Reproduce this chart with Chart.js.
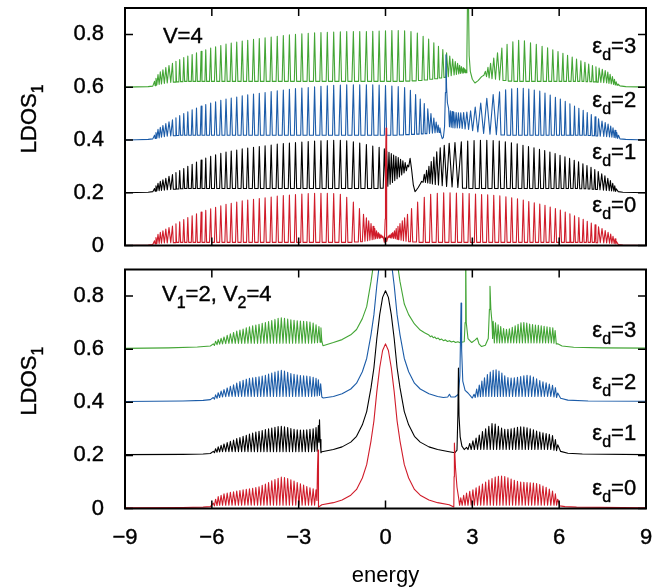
<!DOCTYPE html>
<html>
<head>
<meta charset="utf-8">
<script src="https://cdn.jsdelivr.net/npm/chart.js@4.4.1/dist/chart.umd.min.js"></script>
<style>
  body { margin: 0; background: #fff; }
  #wrap { position: relative; width: 668px; height: 588px; }
  canvas { position: absolute; left: 0; }
  #top { top: 0; }
  #bottom { top: 255px; }
</style>
</head>
<body>
<div id="wrap">
  <canvas id="top" width="668" height="260"></canvas>
  <canvas id="bottom" width="668" height="333"></canvas>
</div>
<script>
// LDOS_1 vs energy, two panels (V=4 and V1=2,V2=4), curves offset by eps_d

const energyTicks = [-9, -6, -3, 0, 3, 6, 9];
const ldosTicks = [0, 0.2, 0.4, 0.6, 0.8];
const levels = ['0', '1', '2', '3'];
const colors = ['#d01c2a', '#000000', '#1c5ca8', '#43a535'];

// ── top panel (V=4) ─────────────────────────────
const redTop = [
  [-9,0],[-8.6,0.001],[-8.2,0.002],[-8.04,0.004],
  [-7.98,0.018],[-7.96,0.006],[-7.93,0.03],[-7.9,0.007],[-7.86,0.042],[-7.82,0.008],
  [-7.78,0.05],[-7.74,0.009],[-7.69,0.056],[-7.64,0.01],[-7.59,0.062],[-7.54,0.01],
  [-7.48,0.068],[-7.42,0.011],[-7.36,0.074],[-7.33,0.011],[-7.27,0.011],
  [-7.24,0.082],[-7.22,0.012],[-7.14,0.012],[-7.11,0.09],[-7.08,0.012],[-7.0,0.012],
  [-6.97,0.098],[-6.94,0.012],[-6.86,0.012],[-6.83,0.106],[-6.8,0.012],[-6.71,0.012],
  [-6.68,0.113],[-6.65,0.012],[-6.56,0.012],[-6.53,0.12],[-6.5,0.012],[-6.4,0.012],
  [-6.37,0.127],[-6.34,0.012],[-6.24,0.012],[-6.21,0.133],[-6.18,0.012],[-6.08,0.012],
  [-6.04,0.139],[-6.01,0.012],[-5.91,0.012],[-5.87,0.145],[-5.83,0.012],[-5.73,0.012],
  [-5.69,0.15],[-5.65,0.012],[-5.55,0.012],[-5.51,0.156],[-5.47,0.012],[-5.37,0.012],
  [-5.33,0.16],[-5.29,0.012],[-5.18,0.012],[-5.14,0.165],[-5.1,0.012],[-4.99,0.012],
  [-4.95,0.169],[-4.91,0.012],[-4.8,0.012],[-4.76,0.172],[-4.72,0.012],[-4.6,0.012],
  [-4.56,0.175],[-4.52,0.012],[-4.4,0.012],[-4.36,0.178],[-4.32,0.012],[-4.2,0.012],
  [-4.16,0.181],[-4.12,0.012],[-3.99,0.012],[-3.95,0.184],[-3.91,0.012],[-3.78,0.012],
  [-3.74,0.187],[-3.7,0.012],[-3.57,0.012],[-3.53,0.189],[-3.49,0.012],[-3.36,0.012],
  [-3.32,0.191],[-3.28,0.012],[-3.15,0.012],[-3.11,0.193],[-3.07,0.012],[-2.93,0.012],
  [-2.89,0.195],[-2.85,0.012],[-2.71,0.012],[-2.67,0.197],[-2.63,0.012],[-2.49,0.012],
  [-2.45,0.198],[-2.41,0.012],[-2.27,0.012],[-2.23,0.198],[-2.19,0.012],[-2.05,0.012],
  [-2.01,0.198],[-1.97,0.012],[-1.83,0.012],[-1.79,0.197],[-1.75,0.012],[-1.61,0.012],
  [-1.56,0.194],[-1.52,0.012],[-1.38,0.012],[-1.34,0.183],[-1.3,0.012],[-1.16,0.012],
  [-1.11,0.165],[-1.07,0.013],[-0.94,0.013],[-0.9,0.14],[-0.86,0.014],[-0.8,0.014],
  [-0.76,0.118],[-0.71,0.016],[-0.66,0.105],[-0.62,0.018],[-0.58,0.094],[-0.54,0.02],
  [-0.5,0.083],[-0.46,0.022],[-0.43,0.073],[-0.4,0.024],[-0.37,0.064],[-0.34,0.026],
  [-0.31,0.056],[-0.28,0.027],[-0.25,0.049],[-0.22,0.028],[-0.2,0.044],[-0.17,0.029],
  [-0.15,0.04],[-0.12,0.03],[-0.1,0.036],[-0.07,0.028],[-0.04,0.012],[-0.01,0.1],
  [0.0,0.3],[0.02,0.445],[0.03,0.2],[0.05,0.015],[0.08,0.03],[0.1,0.036],
  [0.12,0.03],[0.15,0.04],[0.17,0.029],[0.2,0.044],[0.22,0.028],[0.25,0.049],
  [0.28,0.027],[0.31,0.056],[0.34,0.026],[0.37,0.064],[0.4,0.024],[0.43,0.073],
  [0.46,0.022],[0.5,0.083],[0.54,0.02],[0.58,0.094],[0.62,0.018],[0.66,0.105],
  [0.71,0.016],[0.76,0.118],[0.8,0.014],[0.86,0.014],[0.9,0.14],[0.94,0.013],
  [1.07,0.013],[1.11,0.165],[1.16,0.012],[1.3,0.012],[1.34,0.183],[1.38,0.012],
  [1.52,0.012],[1.56,0.194],[1.61,0.012],[1.75,0.012],[1.79,0.198],[1.83,0.012],
  [1.97,0.012],[2.01,0.2],[2.05,0.012],[2.19,0.012],[2.23,0.2],[2.27,0.012],
  [2.41,0.012],[2.45,0.199],[2.49,0.012],[2.63,0.012],[2.67,0.198],[2.71,0.012],
  [2.85,0.012],[2.89,0.197],[2.93,0.012],[3.07,0.012],[3.11,0.195],[3.15,0.012],
  [3.28,0.012],[3.32,0.193],[3.36,0.012],[3.49,0.012],[3.53,0.192],[3.57,0.012],
  [3.7,0.012],[3.74,0.19],[3.78,0.012],[3.91,0.012],[3.95,0.188],[3.99,0.012],
  [4.12,0.012],[4.16,0.185],[4.2,0.012],[4.32,0.012],[4.36,0.181],[4.4,0.012],
  [4.52,0.012],[4.56,0.177],[4.6,0.012],[4.72,0.012],[4.76,0.172],[4.8,0.012],
  [4.91,0.012],[4.95,0.167],[4.99,0.012],[5.1,0.012],[5.14,0.162],[5.18,0.012],
  [5.29,0.012],[5.33,0.157],[5.37,0.012],[5.47,0.012],[5.51,0.152],[5.55,0.012],
  [5.65,0.012],[5.69,0.146],[5.73,0.012],[5.83,0.012],[5.87,0.14],[5.91,0.012],
  [6.01,0.012],[6.04,0.134],[6.08,0.012],[6.18,0.012],[6.21,0.127],[6.24,0.012],
  [6.34,0.012],[6.37,0.12],[6.4,0.012],[6.5,0.012],[6.53,0.113],[6.56,0.012],
  [6.65,0.012],[6.68,0.106],[6.71,0.012],[6.8,0.012],[6.83,0.099],[6.86,0.012],
  [6.94,0.012],[6.97,0.092],[7.0,0.012],[7.08,0.012],[7.11,0.085],[7.14,0.012],
  [7.22,0.012],[7.24,0.078],[7.27,0.011],[7.33,0.011],[7.36,0.071],[7.42,0.011],
  [7.48,0.064],[7.54,0.01],[7.59,0.057],[7.64,0.01],[7.69,0.05],[7.74,0.009],
  [7.78,0.043],[7.82,0.008],[7.86,0.035],[7.9,0.007],[7.93,0.025],[7.96,0.006],
  [7.98,0.015],[8.04,0.004],[8.2,0.002],[8.6,0.001],[9,0]
];

const blackTop = [
  [-9,0.2],[-8.6,0.201],[-8.2,0.202],[-8.04,0.204],
  [-7.98,0.216],[-7.96,0.206],[-7.93,0.226],[-7.9,0.207],[-7.86,0.236],[-7.82,0.208],
  [-7.78,0.243],[-7.74,0.209],[-7.69,0.249],[-7.64,0.21],[-7.59,0.255],[-7.54,0.211],
  [-7.48,0.262],[-7.42,0.212],[-7.36,0.269],[-7.33,0.213],[-7.27,0.213],
  [-7.24,0.276],[-7.22,0.214],[-7.14,0.214],[-7.11,0.284],[-7.08,0.215],[-7.0,0.215],
  [-6.97,0.292],[-6.94,0.216],[-6.86,0.216],[-6.83,0.3],[-6.8,0.216],[-6.71,0.216],
  [-6.68,0.308],[-6.65,0.216],[-6.56,0.216],[-6.53,0.316],[-6.5,0.216],[-6.4,0.216],
  [-6.37,0.324],[-6.34,0.216],[-6.24,0.216],[-6.21,0.331],[-6.18,0.216],[-6.08,0.216],
  [-6.04,0.338],[-6.01,0.216],[-5.91,0.216],[-5.87,0.344],[-5.83,0.216],[-5.73,0.216],
  [-5.69,0.349],[-5.65,0.216],[-5.55,0.216],[-5.51,0.354],[-5.47,0.216],[-5.37,0.216],
  [-5.33,0.358],[-5.29,0.216],[-5.18,0.216],[-5.14,0.362],[-5.1,0.216],[-4.99,0.216],
  [-4.95,0.366],[-4.91,0.216],[-4.8,0.216],[-4.76,0.369],[-4.72,0.216],[-4.6,0.216],
  [-4.56,0.372],[-4.52,0.216],[-4.4,0.216],[-4.36,0.375],[-4.32,0.216],[-4.2,0.216],
  [-4.16,0.378],[-4.12,0.216],[-3.99,0.216],[-3.95,0.381],[-3.91,0.216],[-3.78,0.216],
  [-3.74,0.384],[-3.7,0.216],[-3.57,0.216],[-3.53,0.386],[-3.49,0.216],[-3.36,0.216],
  [-3.32,0.388],[-3.28,0.216],[-3.15,0.216],[-3.11,0.39],[-3.07,0.216],[-2.93,0.216],
  [-2.89,0.392],[-2.85,0.216],[-2.71,0.216],[-2.67,0.394],[-2.63,0.216],[-2.49,0.216],
  [-2.45,0.396],[-2.41,0.216],[-2.27,0.216],[-2.23,0.397],[-2.19,0.216],[-2.05,0.216],
  [-2.01,0.398],[-1.97,0.216],[-1.83,0.216],[-1.79,0.399],[-1.75,0.216],[-1.61,0.216],
  [-1.56,0.399],[-1.52,0.216],[-1.38,0.216],[-1.34,0.397],[-1.3,0.216],[-1.16,0.216],
  [-1.11,0.393],[-1.07,0.216],[-0.93,0.216],[-0.89,0.388],[-0.85,0.216],[-0.71,0.216],
  [-0.66,0.383],[-0.62,0.216],[-0.48,0.216],[-0.44,0.377],[-0.4,0.216],[-0.26,0.216],
  [-0.22,0.372],[-0.18,0.217],[-0.08,0.217],
  [-0.04,0.366],[0.01,0.22],[0.04,0.358],[0.08,0.225],[0.12,0.353],[0.16,0.232],
  [0.2,0.348],[0.24,0.239],[0.28,0.343],[0.32,0.246],[0.36,0.338],[0.4,0.253],
  [0.44,0.333],[0.48,0.26],[0.52,0.327],[0.56,0.267],[0.6,0.321],[0.64,0.275],
  [0.68,0.314],[0.72,0.283],[0.76,0.305],[0.8,0.298],[0.85,0.33],[0.9,0.29],
  [0.96,0.23],[1.02,0.204],[1.08,0.212],[1.13,0.22],[1.2,0.233],[1.25,0.243],
  [1.3,0.24],[1.34,0.27],[1.38,0.239],[1.42,0.285],[1.46,0.237],[1.5,0.3],
  [1.54,0.235],[1.58,0.318],[1.62,0.233],[1.67,0.335],[1.72,0.231],[1.77,0.355],
  [1.83,0.229],[1.89,0.37],[1.96,0.227],[2.03,0.38],[2.11,0.224],[2.2,0.387],
  [2.3,0.222],[2.4,0.39],[2.5,0.22],[2.62,0.393],[2.66,0.217],[2.8,0.217],
  [2.84,0.396],[2.88,0.216],[3.02,0.216],[3.06,0.398],[3.1,0.216],[3.24,0.216],
  [3.28,0.399],[3.32,0.216],[3.46,0.216],[3.5,0.399],[3.54,0.216],[3.68,0.216],
  [3.72,0.398],[3.77,0.216],[3.89,0.216],[3.93,0.396],[3.98,0.216],[4.1,0.216],
  [4.14,0.393],[4.19,0.216],[4.31,0.216],[4.35,0.389],[4.39,0.216],[4.51,0.216],
  [4.55,0.385],[4.59,0.216],[4.71,0.216],[4.75,0.38],[4.79,0.216],[4.9,0.216],
  [4.94,0.375],[4.98,0.216],[5.09,0.216],[5.13,0.37],[5.17,0.216],[5.28,0.216],
  [5.32,0.365],[5.36,0.216],[5.46,0.216],[5.5,0.36],[5.54,0.216],[5.64,0.216],
  [5.68,0.354],[5.72,0.216],[5.82,0.216],[5.86,0.348],[5.9,0.216],[5.99,0.216],
  [6.03,0.342],[6.07,0.216],[6.16,0.216],[6.2,0.336],[6.24,0.216],[6.32,0.216],
  [6.36,0.33],[6.4,0.216],[6.48,0.216],[6.52,0.323],[6.56,0.216],[6.63,0.216],
  [6.67,0.317],[6.71,0.215],[6.78,0.215],[6.82,0.31],[6.86,0.215],[6.92,0.215],
  [6.96,0.303],[7.0,0.214],[7.06,0.214],[7.1,0.296],[7.14,0.213],[7.2,0.213],
  [7.23,0.288],[7.26,0.212],[7.32,0.212],[7.35,0.28],[7.41,0.211],[7.47,0.272],
  [7.53,0.21],[7.58,0.264],[7.63,0.209],[7.68,0.255],[7.73,0.208],[7.77,0.246],
  [7.81,0.207],[7.85,0.236],[7.89,0.206],[7.92,0.226],[7.95,0.205],[7.97,0.215],
  [8.04,0.204],[8.2,0.202],[8.6,0.201],[9,0.2]
];

const blueTop = [
  [-9,0.4],[-8.6,0.401],[-8.2,0.402],[-8.04,0.404],
  [-7.98,0.418],[-7.96,0.406],[-7.93,0.428],[-7.9,0.407],[-7.86,0.44],[-7.82,0.408],
  [-7.78,0.448],[-7.74,0.41],[-7.69,0.455],[-7.64,0.412],[-7.59,0.462],[-7.54,0.414],
  [-7.48,0.469],[-7.42,0.415],[-7.36,0.476],[-7.33,0.416],[-7.27,0.416],
  [-7.24,0.484],[-7.22,0.417],[-7.14,0.417],[-7.11,0.492],[-7.08,0.418],[-7.0,0.418],
  [-6.97,0.5],[-6.94,0.418],[-6.86,0.418],[-6.83,0.507],[-6.8,0.418],[-6.71,0.418],
  [-6.68,0.514],[-6.65,0.418],[-6.56,0.418],[-6.53,0.521],[-6.5,0.418],[-6.4,0.418],
  [-6.37,0.528],[-6.34,0.418],[-6.24,0.418],[-6.21,0.534],[-6.18,0.418],[-6.08,0.418],
  [-6.04,0.54],[-6.01,0.418],[-5.91,0.418],[-5.87,0.545],[-5.83,0.418],[-5.73,0.418],
  [-5.69,0.55],[-5.65,0.418],[-5.55,0.418],[-5.51,0.555],[-5.47,0.418],[-5.37,0.418],
  [-5.33,0.559],[-5.29,0.418],[-5.18,0.418],[-5.14,0.563],[-5.1,0.418],[-4.99,0.418],
  [-4.95,0.567],[-4.91,0.418],[-4.8,0.418],[-4.76,0.571],[-4.72,0.418],[-4.6,0.418],
  [-4.56,0.574],[-4.52,0.418],[-4.4,0.418],[-4.36,0.577],[-4.32,0.418],[-4.2,0.418],
  [-4.16,0.58],[-4.12,0.418],[-3.99,0.418],[-3.95,0.583],[-3.91,0.418],[-3.78,0.418],
  [-3.74,0.586],[-3.7,0.418],[-3.57,0.418],[-3.53,0.589],[-3.49,0.418],[-3.36,0.418],
  [-3.32,0.592],[-3.28,0.418],[-3.15,0.418],[-3.11,0.595],[-3.07,0.418],[-2.93,0.418],
  [-2.89,0.597],[-2.85,0.418],[-2.71,0.418],[-2.67,0.599],[-2.63,0.418],[-2.49,0.418],
  [-2.45,0.601],[-2.41,0.418],[-2.27,0.418],[-2.23,0.603],[-2.19,0.418],[-2.05,0.418],
  [-2.01,0.605],[-1.97,0.418],[-1.83,0.418],[-1.79,0.607],[-1.75,0.418],[-1.61,0.418],
  [-1.56,0.608],[-1.52,0.418],[-1.38,0.418],[-1.34,0.609],[-1.3,0.418],[-1.16,0.418],
  [-1.11,0.609],[-1.07,0.418],[-0.93,0.418],[-0.89,0.609],[-0.85,0.418],[-0.71,0.418],
  [-0.66,0.609],[-0.62,0.418],[-0.48,0.418],[-0.44,0.609],[-0.4,0.418],[-0.26,0.418],
  [-0.22,0.608],[-0.18,0.418],[-0.04,0.418],[0.0,0.606],[0.04,0.418],[0.18,0.418],
  [0.22,0.604],[0.26,0.418],[0.4,0.418],[0.44,0.602],[0.48,0.419],[0.62,0.419],
  [0.66,0.599],[0.7,0.42],[0.82,0.42],[0.86,0.588],[0.9,0.421],[1.0,0.421],
  [1.04,0.572],[1.08,0.422],[1.16,0.422],[1.2,0.555],[1.24,0.423],[1.3,0.423],
  [1.34,0.538],[1.37,0.424],[1.43,0.424],[1.46,0.518],[1.52,0.425],
  [1.57,0.5],[1.62,0.426],[1.67,0.483],[1.71,0.427],[1.75,0.468],[1.79,0.428],
  [1.82,0.456],[1.85,0.428],[1.88,0.446],[1.92,0.42],[1.96,0.405],[2.0,0.41],
  [2.04,0.45],[2.07,0.58],[2.09,0.723],[2.11,0.6],[2.14,0.54],[2.18,0.52],
  [2.21,0.45],[2.24,0.51],[2.27,0.448],[2.3,0.508],[2.33,0.446],[2.36,0.506],
  [2.4,0.445],[2.44,0.504],[2.48,0.445],[2.52,0.503],[2.56,0.445],[2.6,0.503],
  [2.65,0.444],[2.7,0.504],[2.75,0.442],[2.81,0.506],[2.87,0.44],[2.94,0.51],
  [3.01,0.435],[3.1,0.525],[3.19,0.43],[3.29,0.54],[3.39,0.425],[3.5,0.558],
  [3.61,0.422],[3.72,0.572],[3.83,0.42],[3.94,0.582],[3.99,0.419],[4.11,0.419],
  [4.15,0.59],[4.2,0.418],[4.32,0.418],[4.36,0.594],[4.4,0.418],[4.52,0.418],
  [4.56,0.596],[4.6,0.418],[4.72,0.418],[4.76,0.596],[4.8,0.418],[4.91,0.418],
  [4.95,0.593],[4.99,0.418],[5.1,0.418],[5.14,0.589],[5.18,0.418],[5.29,0.418],
  [5.33,0.585],[5.37,0.418],[5.47,0.418],[5.51,0.578],[5.55,0.418],[5.65,0.418],
  [5.69,0.57],[5.73,0.418],[5.83,0.418],[5.87,0.562],[5.91,0.418],[6.01,0.418],
  [6.04,0.555],[6.08,0.418],[6.18,0.418],[6.21,0.546],[6.24,0.418],[6.34,0.418],
  [6.37,0.537],[6.4,0.418],[6.5,0.418],[6.53,0.528],[6.56,0.418],[6.65,0.418],
  [6.68,0.52],[6.71,0.418],[6.8,0.418],[6.83,0.512],[6.86,0.418],[6.94,0.418],
  [6.97,0.504],[7.0,0.417],[7.08,0.417],[7.11,0.496],[7.14,0.416],[7.22,0.416],
  [7.24,0.488],[7.27,0.415],[7.33,0.415],[7.36,0.48],[7.42,0.414],[7.48,0.472],
  [7.54,0.413],[7.59,0.466],[7.64,0.412],[7.69,0.46],[7.74,0.411],[7.78,0.453],
  [7.82,0.41],[7.86,0.446],[7.9,0.409],[7.93,0.437],[7.96,0.408],[7.99,0.428],
  [8.02,0.406],[8.05,0.418],[8.1,0.404],[8.3,0.402],[8.7,0.401],[9,0.4]
];

const greenTop = [
  [-9,0.6],[-8.6,0.601],[-8.2,0.602],[-8.04,0.604],
  [-7.98,0.622],[-7.96,0.606],[-7.93,0.634],[-7.9,0.608],[-7.86,0.648],[-7.82,0.61],
  [-7.78,0.658],[-7.74,0.612],[-7.69,0.666],[-7.64,0.614],[-7.59,0.674],[-7.54,0.616],
  [-7.48,0.682],[-7.42,0.618],[-7.36,0.69],[-7.33,0.619],[-7.27,0.619],
  [-7.24,0.698],[-7.22,0.62],[-7.14,0.62],[-7.11,0.705],[-7.08,0.621],[-7.0,0.621],
  [-6.97,0.712],[-6.94,0.622],[-6.86,0.622],[-6.83,0.718],[-6.8,0.622],[-6.71,0.622],
  [-6.68,0.724],[-6.65,0.622],[-6.56,0.622],[-6.53,0.73],[-6.5,0.622],[-6.4,0.622],
  [-6.37,0.736],[-6.34,0.622],[-6.24,0.622],[-6.21,0.742],[-6.18,0.622],[-6.08,0.622],
  [-6.04,0.748],[-6.01,0.622],[-5.91,0.622],[-5.87,0.753],[-5.83,0.622],[-5.73,0.622],
  [-5.69,0.758],[-5.65,0.622],[-5.55,0.622],[-5.51,0.763],[-5.47,0.622],[-5.37,0.622],
  [-5.33,0.767],[-5.29,0.622],[-5.18,0.622],[-5.14,0.771],[-5.1,0.622],[-4.99,0.622],
  [-4.95,0.775],[-4.91,0.622],[-4.8,0.622],[-4.76,0.778],[-4.72,0.622],[-4.6,0.622],
  [-4.56,0.781],[-4.52,0.622],[-4.4,0.622],[-4.36,0.784],[-4.32,0.622],[-4.2,0.622],
  [-4.16,0.787],[-4.12,0.622],[-3.99,0.622],[-3.95,0.79],[-3.91,0.622],[-3.78,0.622],
  [-3.74,0.793],[-3.7,0.622],[-3.57,0.622],[-3.53,0.796],[-3.49,0.622],[-3.36,0.622],
  [-3.32,0.798],[-3.28,0.622],[-3.15,0.622],[-3.11,0.8],[-3.07,0.622],[-2.93,0.622],
  [-2.89,0.802],[-2.85,0.622],[-2.71,0.622],[-2.67,0.804],[-2.63,0.622],[-2.49,0.622],
  [-2.45,0.806],[-2.41,0.622],[-2.27,0.622],[-2.23,0.807],[-2.19,0.622],[-2.05,0.622],
  [-2.01,0.808],[-1.97,0.622],[-1.83,0.622],[-1.79,0.809],[-1.75,0.622],[-1.61,0.622],
  [-1.56,0.81],[-1.52,0.622],[-1.38,0.622],[-1.34,0.811],[-1.3,0.622],[-1.16,0.622],
  [-1.11,0.811],[-1.07,0.622],[-0.93,0.622],[-0.89,0.811],[-0.85,0.622],[-0.71,0.622],
  [-0.66,0.811],[-0.62,0.622],[-0.48,0.622],[-0.44,0.812],[-0.4,0.622],[-0.26,0.622],
  [-0.22,0.813],[-0.18,0.622],[-0.04,0.622],[0.0,0.814],[0.04,0.622],[0.18,0.622],
  [0.22,0.815],[0.26,0.622],[0.4,0.622],[0.44,0.815],[0.48,0.622],[0.62,0.622],
  [0.66,0.814],[0.7,0.623],[0.84,0.623],[0.88,0.811],[0.92,0.624],[1.06,0.624],
  [1.1,0.805],[1.14,0.625],[1.26,0.625],[1.3,0.793],[1.34,0.627],[1.45,0.627],
  [1.49,0.782],[1.53,0.63],[1.63,0.63],[1.67,0.768],[1.7,0.632],[1.8,0.632],
  [1.83,0.755],[1.86,0.635],[1.94,0.635],[1.98,0.743],[2.02,0.637],[2.08,0.637],
  [2.11,0.73],[2.17,0.64],
  [2.22,0.718],[2.27,0.643],[2.32,0.707],[2.37,0.646],[2.41,0.697],[2.45,0.648],
  [2.49,0.69],[2.53,0.65],[2.56,0.683],[2.59,0.652],[2.62,0.678],[2.65,0.653],
  [2.68,0.673],[2.7,0.654],[2.73,0.67],[2.75,0.655],[2.77,0.666],[2.79,0.655],
  [2.81,0.7],[2.83,0.9],[2.85,1.1],[2.87,0.9],[2.89,0.72],[2.93,0.66],
  [3.0,0.63],[3.09,0.616],[3.2,0.625],[3.32,0.64],[3.4,0.645],[3.45,0.66],
  [3.49,0.64],[3.54,0.675],[3.58,0.635],[3.63,0.69],[3.68,0.632],[3.74,0.71],
  [3.8,0.63],[3.87,0.73],[3.94,0.627],[4.02,0.748],[4.06,0.625],[4.16,0.625],
  [4.2,0.762],[4.24,0.623],[4.36,0.623],[4.4,0.772],[4.44,0.622],[4.56,0.622],
  [4.6,0.778],[4.64,0.622],[4.76,0.622],[4.8,0.776],[4.85,0.622],[4.97,0.622],
  [5.01,0.768],[5.05,0.622],[5.17,0.622],[5.21,0.762],[5.25,0.622],[5.37,0.622],
  [5.41,0.755],[5.45,0.622],[5.56,0.622],[5.6,0.749],[5.64,0.622],[5.74,0.622],
  [5.78,0.742],[5.82,0.622],[5.92,0.622],[5.96,0.735],[6.0,0.622],[6.09,0.622],
  [6.13,0.728],[6.16,0.622],[6.25,0.622],[6.29,0.721],[6.33,0.622],[6.41,0.622],
  [6.45,0.714],[6.49,0.622],[6.56,0.622],[6.6,0.707],[6.64,0.622],[6.71,0.622],
  [6.75,0.7],[6.79,0.622],[6.85,0.622],[6.89,0.694],[6.93,0.621],[6.98,0.621],
  [7.02,0.688],[7.06,0.621],[7.12,0.621],[7.15,0.682],[7.18,0.62],[7.24,0.62],
  [7.27,0.677],[7.3,0.619],[7.35,0.619],[7.38,0.672],[7.44,0.618],[7.49,0.668],
  [7.54,0.617],[7.59,0.663],[7.64,0.616],[7.68,0.657],[7.72,0.614],[7.76,0.649],
  [7.8,0.612],[7.84,0.64],[7.88,0.61],[7.91,0.63],[7.94,0.608],[7.97,0.62],
  [8.0,0.607],[8.03,0.612],[8.1,0.605],[8.3,0.602],[8.7,0.601],[9,0.6]
];

// ── bottom panel (V1=2, V2=4) ───────────────────
const redBottom = [
  [-9,0.003],[-7,0.004],[-6.3,0.005],[-6.05,0.007],
  [-5.95,0.02],[-5.91,0.01],[-5.87,0.035],[-5.82,0.011],[-5.78,0.045],[-5.73,0.012],
  [-5.68,0.05],[-5.63,0.012],[-5.58,0.055],[-5.52,0.012],[-5.47,0.058],[-5.41,0.012],
  [-5.36,0.061],[-5.3,0.012],[-5.25,0.063],[-5.19,0.012],[-5.14,0.066],[-5.08,0.012],
  [-5.03,0.068],[-4.97,0.012],[-4.92,0.07],[-4.86,0.012],[-4.81,0.072],[-4.75,0.012],
  [-4.7,0.074],[-4.64,0.012],[-4.59,0.076],[-4.53,0.012],[-4.48,0.079],[-4.42,0.012],
  [-4.37,0.082],[-4.31,0.012],[-4.26,0.087],[-4.2,0.012],[-4.15,0.092],[-4.09,0.012],
  [-4.04,0.098],[-3.98,0.012],[-3.93,0.104],[-3.87,0.012],[-3.82,0.109],[-3.76,0.012],
  [-3.71,0.114],[-3.65,0.012],[-3.6,0.118],[-3.54,0.012],[-3.49,0.117],[-3.43,0.012],
  [-3.38,0.113],[-3.32,0.012],[-3.27,0.108],[-3.21,0.012],[-3.16,0.103],[-3.1,0.012],
  [-3.05,0.098],[-2.99,0.012],[-2.94,0.093],[-2.88,0.012],[-2.83,0.088],[-2.77,0.012],
  [-2.72,0.083],[-2.66,0.012],[-2.61,0.078],[-2.55,0.012],[-2.5,0.074],[-2.45,0.012],
  [-2.4,0.07],[-2.37,0.03],[-2.35,0.15],[-2.33,0.22],[-2.32,0.12],[-2.31,0.005],
  [-2.2,0.014],[-1.8,0.022],[-1.5,0.032],[-1.2,0.05],[-1.0,0.072],[-0.8,0.115],
  [-0.65,0.165],[-0.5,0.255],[-0.4,0.33],[-0.3,0.44],[-0.2,0.53],[-0.1,0.595],
  [0.0,0.62],[0.1,0.595],[0.2,0.53],[0.3,0.44],[0.4,0.33],[0.5,0.255],
  [0.65,0.165],[0.8,0.115],[1.0,0.072],[1.2,0.05],[1.5,0.032],[1.8,0.022],
  [2.2,0.014],[2.36,0.006],[2.37,0.12],[2.38,0.246],[2.42,0.15],[2.47,0.08],
  [2.52,0.045],[2.56,0.012],[2.6,0.04],[2.65,0.012],[2.7,0.05],[2.75,0.012],
  [2.8,0.058],[2.85,0.012],[2.91,0.065],[2.96,0.012],[3.02,0.07],[3.07,0.012],
  [3.13,0.078],[3.18,0.012],[3.24,0.085],[3.29,0.012],[3.35,0.092],[3.4,0.012],
  [3.46,0.1],[3.51,0.012],[3.57,0.107],[3.62,0.012],[3.68,0.113],[3.73,0.012],
  [3.79,0.118],[3.84,0.012],[3.9,0.121],[3.95,0.012],[4.01,0.122],[4.06,0.012],
  [4.12,0.12],[4.17,0.012],[4.23,0.116],[4.28,0.012],[4.34,0.111],[4.39,0.012],
  [4.45,0.106],[4.5,0.012],[4.56,0.102],[4.61,0.012],[4.67,0.1],[4.72,0.012],
  [4.78,0.099],[4.83,0.012],[4.89,0.098],[4.94,0.012],[5.0,0.097],[5.05,0.012],
  [5.11,0.096],[5.16,0.012],[5.22,0.094],[5.27,0.012],[5.33,0.09],[5.38,0.012],
  [5.44,0.085],[5.49,0.012],[5.55,0.08],[5.6,0.012],[5.66,0.073],[5.71,0.012],
  [5.77,0.066],[5.82,0.012],[5.87,0.055],[5.91,0.012],[5.95,0.035],[6.02,0.01],
  [6.2,0.007],[6.6,0.005],[9,0.003]
];

const blackBottom = [
  [-9,0.203],[-7,0.204],[-6.3,0.205],[-6.05,0.207],
  [-5.95,0.215],[-5.91,0.21],[-5.87,0.225],[-5.82,0.212],[-5.78,0.232],[-5.73,0.213],
  [-5.68,0.238],[-5.63,0.214],[-5.58,0.243],[-5.52,0.214],[-5.47,0.248],[-5.41,0.214],
  [-5.36,0.253],[-5.3,0.214],[-5.25,0.258],[-5.19,0.214],[-5.14,0.263],[-5.08,0.214],
  [-5.03,0.267],[-4.97,0.214],[-4.92,0.272],[-4.86,0.214],[-4.81,0.276],[-4.75,0.214],
  [-4.7,0.28],[-4.64,0.214],[-4.59,0.284],[-4.53,0.214],[-4.48,0.288],[-4.42,0.214],
  [-4.37,0.291],[-4.31,0.214],[-4.26,0.294],[-4.2,0.214],[-4.15,0.297],[-4.09,0.214],
  [-4.04,0.3],[-3.98,0.214],[-3.93,0.303],[-3.87,0.214],[-3.82,0.306],[-3.76,0.214],
  [-3.71,0.309],[-3.65,0.214],[-3.6,0.31],[-3.54,0.214],[-3.49,0.308],[-3.43,0.214],
  [-3.38,0.305],[-3.32,0.214],[-3.27,0.301],[-3.21,0.214],[-3.16,0.298],[-3.1,0.214],
  [-3.05,0.296],[-2.99,0.214],[-2.94,0.295],[-2.88,0.214],[-2.83,0.295],[-2.77,0.214],
  [-2.72,0.296],[-2.66,0.214],[-2.61,0.298],[-2.55,0.214],[-2.5,0.3],[-2.45,0.215],
  [-2.4,0.305],[-2.36,0.216],[-2.32,0.312],[-2.3,0.25],[-2.28,0.334],[-2.26,0.26],
  [-2.23,0.21],[-2.2,0.214],[-1.8,0.222],[-1.5,0.232],[-1.2,0.25],[-1.0,0.272],
  [-0.8,0.315],[-0.65,0.365],[-0.5,0.455],[-0.4,0.53],[-0.3,0.64],[-0.2,0.73],
  [-0.1,0.795],[0.0,0.82],[0.1,0.795],[0.2,0.73],[0.3,0.64],[0.4,0.53],
  [0.5,0.455],[0.65,0.365],[0.8,0.315],[1.0,0.272],[1.2,0.25],[1.5,0.232],
  [1.8,0.222],[2.2,0.214],[2.4,0.21],[2.47,0.22],[2.5,0.35],[2.52,0.529],
  [2.54,0.35],[2.58,0.27],[2.64,0.235],[2.72,0.222],[2.8,0.23],[2.85,0.222],
  [2.91,0.245],[2.96,0.222],[3.02,0.255],[3.07,0.222],[3.13,0.265],[3.18,0.222],
  [3.24,0.277],[3.29,0.222],[3.35,0.29],[3.4,0.222],[3.46,0.3],[3.51,0.222],
  [3.57,0.31],[3.62,0.222],[3.68,0.32],[3.73,0.222],[3.79,0.318],[3.84,0.222],
  [3.9,0.31],[3.95,0.222],[4.01,0.303],[4.06,0.222],[4.12,0.298],[4.17,0.222],
  [4.23,0.298],[4.28,0.222],[4.34,0.3],[4.39,0.222],[4.45,0.303],[4.5,0.222],
  [4.56,0.306],[4.61,0.222],[4.67,0.308],[4.72,0.222],[4.78,0.307],[4.83,0.222],
  [4.89,0.304],[4.94,0.222],[5.0,0.3],[5.05,0.222],[5.11,0.296],[5.16,0.222],
  [5.22,0.292],[5.27,0.222],[5.33,0.288],[5.38,0.222],[5.44,0.285],[5.49,0.222],
  [5.55,0.282],[5.6,0.222],[5.66,0.279],[5.71,0.222],[5.77,0.275],[5.82,0.22],
  [5.87,0.26],[5.91,0.218],[5.95,0.24],[6.05,0.215],[6.3,0.208],[6.8,0.205],
  [9,0.203]
];

const blueBottom = [
  [-9,0.403],[-7,0.405],[-6.3,0.407],[-6.05,0.41],
  [-5.95,0.418],[-5.91,0.412],[-5.87,0.428],[-5.82,0.415],[-5.78,0.436],[-5.73,0.418],
  [-5.68,0.442],[-5.63,0.42],[-5.58,0.448],[-5.52,0.421],[-5.47,0.454],[-5.41,0.422],
  [-5.36,0.46],[-5.3,0.422],[-5.25,0.466],[-5.19,0.422],[-5.14,0.472],[-5.08,0.422],
  [-5.03,0.478],[-4.97,0.422],[-4.92,0.483],[-4.86,0.422],[-4.81,0.487],[-4.75,0.422],
  [-4.7,0.49],[-4.64,0.422],[-4.59,0.492],[-4.53,0.422],[-4.48,0.494],[-4.42,0.422],
  [-4.37,0.496],[-4.31,0.422],[-4.26,0.499],[-4.2,0.422],[-4.15,0.502],[-4.09,0.422],
  [-4.04,0.506],[-3.98,0.422],[-3.93,0.51],[-3.87,0.422],[-3.82,0.514],[-3.76,0.422],
  [-3.71,0.518],[-3.65,0.422],[-3.6,0.52],[-3.54,0.422],[-3.49,0.518],[-3.43,0.422],
  [-3.38,0.513],[-3.32,0.422],[-3.27,0.508],[-3.21,0.422],[-3.16,0.505],[-3.1,0.422],
  [-3.05,0.503],[-2.99,0.422],[-2.94,0.501],[-2.88,0.422],[-2.83,0.5],[-2.77,0.422],
  [-2.72,0.499],[-2.66,0.422],[-2.61,0.497],[-2.55,0.422],[-2.5,0.494],[-2.45,0.423],
  [-2.4,0.49],[-2.36,0.424],[-2.32,0.485],[-2.28,0.426],[-2.24,0.47],[-2.2,0.42],
  [-2.15,0.416],[-1.8,0.422],[-1.5,0.432],[-1.2,0.45],[-1.0,0.472],[-0.8,0.515],
  [-0.65,0.565],[-0.5,0.655],[-0.4,0.73],[-0.3,0.84],[-0.2,0.93],[-0.1,0.995],
  [0.0,1.02],[0.1,0.995],[0.2,0.93],[0.3,0.84],[0.4,0.73],[0.5,0.655],
  [0.65,0.565],[0.8,0.515],[1.0,0.472],[1.2,0.45],[1.5,0.432],[1.8,0.422],
  [2.0,0.418],[2.15,0.42],[2.21,0.43],[2.26,0.42],[2.4,0.42],[2.52,0.43],
  [2.57,0.5],[2.6,0.7],[2.61,0.774],[2.63,0.6],[2.67,0.48],[2.75,0.445],
  [2.85,0.435],[2.95,0.422],[3.0,0.416],[3.06,0.43],[3.1,0.418],[3.15,0.45],
  [3.19,0.42],[3.24,0.465],[3.28,0.421],[3.33,0.48],[3.37,0.422],[3.42,0.492],
  [3.47,0.422],[3.52,0.504],[3.57,0.422],[3.62,0.514],[3.67,0.422],[3.72,0.52],
  [3.77,0.422],[3.82,0.522],[3.87,0.422],[3.92,0.518],[3.97,0.422],[4.02,0.51],
  [4.07,0.422],[4.12,0.5],[4.17,0.422],[4.23,0.493],[4.28,0.422],[4.34,0.491],
  [4.39,0.422],[4.45,0.492],[4.5,0.422],[4.56,0.494],[4.61,0.422],[4.67,0.497],
  [4.72,0.422],[4.78,0.5],[4.83,0.422],[4.89,0.502],[4.94,0.422],[5.0,0.5],
  [5.05,0.422],[5.11,0.495],[5.16,0.422],[5.22,0.488],[5.27,0.422],[5.33,0.482],
  [5.38,0.422],[5.44,0.477],[5.49,0.422],[5.55,0.473],[5.6,0.422],[5.66,0.469],
  [5.71,0.422],[5.77,0.464],[5.82,0.42],[5.87,0.455],[5.91,0.418],[5.95,0.435],
  [6.05,0.415],[6.3,0.408],[7,0.405],[9,0.404]
];

const greenBottom = [
  [-9,0.603],[-7.5,0.605],[-6.5,0.608],[-6.05,0.612],
  [-5.95,0.62],[-5.91,0.614],[-5.87,0.63],[-5.82,0.617],[-5.78,0.636],[-5.73,0.619],
  [-5.68,0.641],[-5.63,0.62],[-5.58,0.646],[-5.52,0.621],[-5.47,0.652],[-5.41,0.622],
  [-5.36,0.658],[-5.3,0.622],[-5.25,0.663],[-5.19,0.622],[-5.14,0.668],[-5.08,0.622],
  [-5.03,0.672],[-4.97,0.622],[-4.92,0.676],[-4.86,0.622],[-4.81,0.68],[-4.75,0.622],
  [-4.7,0.684],[-4.64,0.622],[-4.59,0.688],[-4.53,0.622],[-4.48,0.691],[-4.42,0.622],
  [-4.37,0.694],[-4.31,0.622],[-4.26,0.697],[-4.2,0.622],[-4.15,0.7],[-4.09,0.622],
  [-4.04,0.704],[-3.98,0.622],[-3.93,0.708],[-3.87,0.622],[-3.82,0.712],[-3.76,0.622],
  [-3.71,0.716],[-3.65,0.622],[-3.6,0.718],[-3.54,0.622],[-3.49,0.716],[-3.43,0.622],
  [-3.38,0.713],[-3.32,0.622],[-3.27,0.711],[-3.21,0.622],[-3.16,0.709],[-3.1,0.622],
  [-3.05,0.707],[-2.99,0.622],[-2.94,0.706],[-2.88,0.622],[-2.83,0.705],[-2.77,0.622],
  [-2.72,0.704],[-2.66,0.622],[-2.61,0.702],[-2.55,0.622],[-2.5,0.698],[-2.45,0.623],
  [-2.4,0.692],[-2.35,0.624],[-2.3,0.685],[-2.26,0.626],[-2.23,0.68],[-2.2,0.63],
  [-2.16,0.613],[-1.8,0.625],[-1.5,0.636],[-1.2,0.654],[-1.0,0.674],[-0.8,0.715],
  [-0.65,0.76],[-0.5,0.855],[-0.4,0.93],[-0.3,1.04],[-0.2,1.13],[-0.1,1.195],
  [0.0,1.22],[0.1,1.195],[0.2,1.13],[0.3,1.04],[0.4,0.93],[0.5,0.855],
  [0.65,0.77],[0.8,0.73],[1.0,0.695],[1.2,0.672],[1.35,0.662],[1.5,0.653],
  [1.55,0.647],[1.6,0.65],[1.65,0.643],[1.7,0.646],[1.76,0.639],[1.82,0.642],
  [1.88,0.635],[1.94,0.638],[2.0,0.632],[2.07,0.635],[2.14,0.629],[2.21,0.632],
  [2.28,0.627],[2.35,0.63],[2.42,0.625],[2.5,0.628],[2.58,0.624],[2.66,0.627],
  [2.72,0.628],[2.75,0.7],[2.77,1.0],[2.79,0.7],[2.85,0.64],[2.98,0.625],
  [3.1,0.635],[3.17,0.642],[3.23,0.62],[3.32,0.61],[3.45,0.615],[3.55,0.64],
  [3.59,0.75],[3.61,0.837],[3.64,0.75],[3.68,0.7],[3.7,0.64],[3.72,0.705],
  [3.76,0.623],[3.8,0.699],[3.85,0.623],[3.89,0.692],[3.94,0.623],[3.98,0.685],
  [4.03,0.623],[4.08,0.678],[4.13,0.623],[4.18,0.675],[4.23,0.623],[4.28,0.677],
  [4.33,0.623],[4.38,0.682],[4.43,0.623],[4.48,0.688],[4.53,0.623],[4.58,0.694],
  [4.63,0.623],[4.68,0.699],[4.73,0.623],[4.78,0.7],[4.83,0.623],[4.88,0.698],
  [4.93,0.623],[4.98,0.695],[5.03,0.623],[5.08,0.693],[5.13,0.623],[5.18,0.691],
  [5.23,0.623],[5.28,0.69],[5.33,0.623],[5.38,0.688],[5.43,0.623],[5.48,0.686],
  [5.53,0.623],[5.58,0.684],[5.63,0.623],[5.68,0.682],[5.73,0.623],[5.78,0.68],
  [5.82,0.622],[5.86,0.67],[5.9,0.62],[5.95,0.62],[6.1,0.612],[6.5,0.607],
  [7.5,0.605],[9,0.604]
];

// label anchors (energy, LDOS) for the in-plot text
const topLabelY = [0.127, 0.328, 0.526, 0.731];
const bottomLabelY = [0.051, 0.258, 0.451, 0.647];

const FONT = '"Liberation Sans", Arial, Helvetica, sans-serif';
Chart.defaults.font.family = FONT;
Chart.defaults.color = '#000';

function drawRich(ctx, parts, x, y, align) {
  const big = '22px ' + FONT, small = '16px ' + FONT;
  let w = 0;
  parts.forEach(p => { ctx.font = p[1] ? small : big; w += ctx.measureText(p[0]).width; });
  let cx = align === 'right' ? x - w : align === 'center' ? x - w / 2 : x;
  parts.forEach(p => {
    ctx.font = p[1] ? small : big;
    const yy = y + (p[1] ? 7 : 0);
    ctx.fillText(p[0], cx, yy);
    ctx.strokeText(p[0], cx, yy);
    cx += ctx.measureText(p[0]).width;
  });
}

// inward gnuplot-style ticks on all four sides + border
const frameTicks = {
  id: 'frameTicks',
  afterDatasetsDraw(chart) {
    const { ctx, chartArea: a, scales: { x, y } } = chart;
    ctx.save();
    ctx.strokeStyle = '#000';
    ctx.lineWidth = 1.5;
    ctx.beginPath();
    x.ticks.forEach(t => {
      const px = x.getPixelForValue(t.value);
      ctx.moveTo(px, a.bottom); ctx.lineTo(px, a.bottom - 8);
      ctx.moveTo(px, a.top); ctx.lineTo(px, a.top + 8);
    });
    y.ticks.forEach(t => {
      const py = y.getPixelForValue(t.value);
      ctx.moveTo(a.left, py); ctx.lineTo(a.left + 8, py);
      ctx.moveTo(a.right, py); ctx.lineTo(a.right - 8, py);
    });
    ctx.stroke();
    ctx.lineWidth = 2;
    ctx.strokeRect(a.left, a.top, a.right - a.left, a.bottom - a.top);
    ctx.restore();
  }
};

function textPlugin(notes) {
  return {
    id: 'panelText',
    afterDraw(chart) {
      const { ctx, chartArea: a, scales: { x, y } } = chart;
      ctx.save();
      ctx.fillStyle = '#000';
      ctx.strokeStyle = '#000';
      ctx.lineWidth = 0.4;
      ctx.textBaseline = 'alphabetic';
      ctx.save();
      ctx.translate(36, (a.top + a.bottom) / 2 - 8);
      ctx.rotate(-Math.PI / 2);
      drawRich(ctx, [['LDOS', 0], ['1', 1]], 0, 0, 'center');
      ctx.restore();
      notes.forEach(n => drawRich(ctx, n.parts, x.getPixelForValue(n.x), y.getPixelForValue(n.y), n.align));
      ctx.restore();
    }
  };
}

function makePanel(id, series, opt) {
  return new Chart(document.getElementById(id), {
    type: 'line',
    data: {
      datasets: series.map((s, i) => ({
        data: s,
        borderColor: colors[i],
        borderWidth: 1.1,
        borderJoinStyle: 'round',
        pointRadius: 0,
        tension: 0,
        fill: false
      }))
    },
    options: {
      responsive: false,
      animation: false,
      events: [],
      layout: { autoPadding: false, padding: { top: opt.padTop, right: 22, left: 0, bottom: 0 } },
      plugins: { legend: { display: false }, tooltip: { enabled: false } },
      scales: {
        x: {
          type: 'linear', min: -9, max: 9,
          afterBuildTicks: s => { s.ticks = energyTicks.map(v => ({ value: v })); },
          ticks: {
            display: opt.showX, padding: 16, maxRotation: 0,
            font: { size: 22 }, color: '#000',
            textStrokeColor: '#000', textStrokeWidth: 0.4,
            callback: v => (v < 0 ? '\u2212' + Math.abs(v) : String(v))
          },
          grid: { display: false, drawTicks: false },
          border: { display: false },
          title: {
            display: opt.showX, text: 'energy', color: '#000',
            font: { size: 22, lineHeight: 1 }, padding: { top: 0, bottom: 1 }
          },
          afterFit: s => { s.height = opt.xHeight; s.paddingLeft = 0; s.paddingRight = 0; }
        },
        y: {
          min: 0, max: 0.9,
          afterBuildTicks: s => { s.ticks = ldosTicks.map(v => ({ value: v })); },
          ticks: {
            padding: 21, font: { size: 22 }, color: '#000',
            textStrokeColor: '#000', textStrokeWidth: 0.4
          },
          grid: { display: false, drawTicks: false },
          border: { display: false },
          afterFit: s => { s.width = 125; s.paddingTop = 0; s.paddingBottom = 0; }
        }
      }
    },
    plugins: [frameTicks, textPlugin(opt.notes)]
  });
}

const epsParts = lv => [['\u03b5', 0], ['d', 1], ['=' + lv, 0]];

makePanel('top', [redTop, blackTop, blueTop, greenTop], {
  padTop: 8, xHeight: 14.5, showX: false,
  notes: [{ x: -7.69, y: 0.768, align: 'left', parts: [['V=4', 0]] }]
    .concat(levels.map((lv, i) => ({ x: 8.66, y: topLabelY[i], align: 'right', parts: epsParts(lv) })))
});

makePanel('bottom', [redBottom, blackBottom, blueBottom, greenBottom], {
  padTop: 14.5, xHeight: 79.5, showX: true,
  notes: [{ x: -7.72, y: 0.78, align: 'left', parts: [['V', 0], ['1', 1], ['=2, V', 0], ['2', 1], ['=4', 0]] }]
    .concat(levels.map((lv, i) => ({ x: 8.66, y: bottomLabelY[i], align: 'right', parts: epsParts(lv) })))
});
</script>
</body>
</html>
